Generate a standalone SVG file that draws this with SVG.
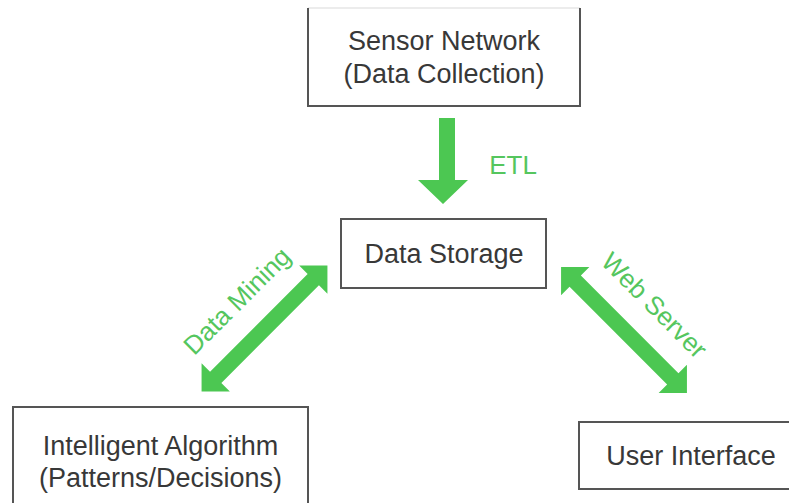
<svg xmlns="http://www.w3.org/2000/svg" width="789" height="503" viewBox="0 0 789 503">
<style>
.box{fill:#ffffff;stroke:#555555;stroke-width:2}
.lbl{font-family:"Liberation Sans",Arial,sans-serif;font-size:27px;fill:#383838;text-anchor:middle}
.glbl{font-family:"Liberation Sans",Arial,sans-serif;font-size:26px;fill:#55c65e;text-anchor:middle}
.arr{fill:#4cc752}
</style>
<defs>
<polygon id="dbl" points="-89,0 -69,-20 -69,-8 69,-8 69,-20 89,0 69,20 69,8 -69,8 -69,20"/>
</defs>
<rect width="789" height="503" fill="#ffffff"/>
<g id="connectors">
<polygon class="arr" points="439,118 455,118 455,180 468,180 443,204 418,180 439,180"/>
<text class="glbl" x="513" y="174">ETL</text>
<g transform="translate(264.5,328.5) rotate(-45)">
<use href="#dbl" class="arr"/>
<text class="glbl" x="0" y="-30">Data Mining</text>
</g>
<g transform="translate(624,330) rotate(45)">
<use href="#dbl" class="arr"/>
<text class="glbl" x="4" y="-30">Web Server</text>
</g>
</g>
<g id="sensor-network">
<rect x="308" y="8" width="272" height="98" fill="#ffffff"/>
<line x1="308" y1="8" x2="580" y2="8" stroke="#ececec" stroke-width="2"/>
<path d="M308,8 V106 H580 V8" fill="none" stroke="#555555" stroke-width="2"/>
<text class="lbl" x="444" y="49.5">Sensor Network</text>
<text class="lbl" x="444" y="83">(Data Collection)</text>
</g>
<g id="data-storage">
<rect class="box" x="341" y="219" width="205" height="69"/>
<text class="lbl" x="444" y="263">Data Storage</text>
</g>
<g id="intelligent-algorithm">
<rect class="box" x="13" y="407" width="295" height="110"/>
<text class="lbl" x="160.5" y="455">Intelligent Algorithm</text>
<text class="lbl" x="160.5" y="487">(Patterns/Decisions)</text>
</g>
<g id="user-interface">
<rect class="box" x="579" y="422" width="224" height="67"/>
<text class="lbl" x="691" y="465">User Interface</text>
</g>
</svg>
